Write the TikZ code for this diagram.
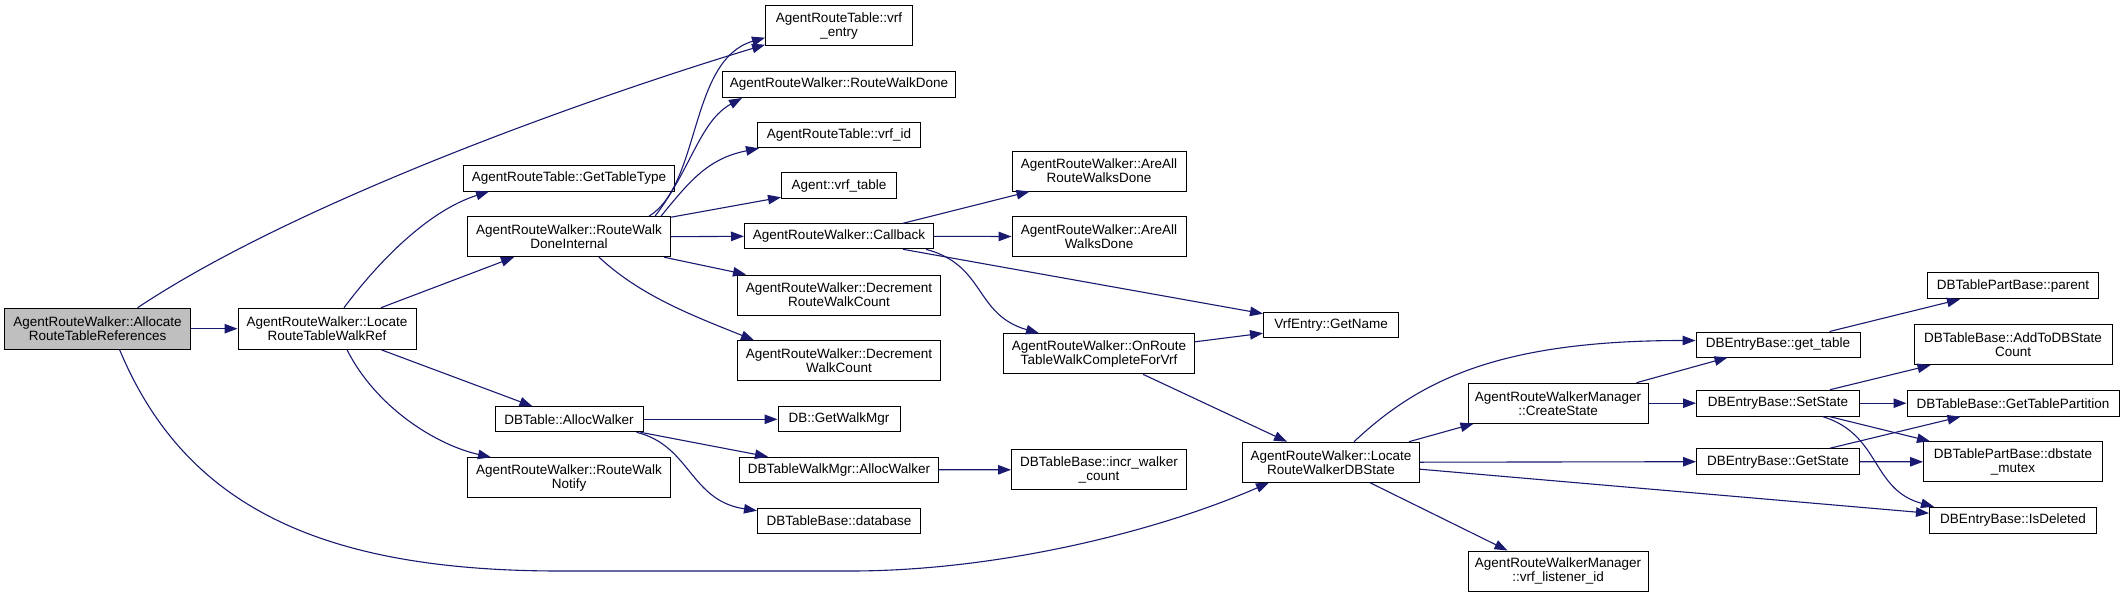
\documentclass[tikz,border=0pt]{standalone}
\usepackage{fontspec}
\setmainfont{Liberation Sans}
\usetikzlibrary{arrows.meta,calc}
\definecolor{edgeblue}{HTML}{191970}
\definecolor{rootgray}{HTML}{BFBFBF}
\tikzset{
  box/.style={draw=black, line width=1pt, fill=white, inner sep=0pt, align=center,
    font=\fontsize{13.5pt}{14pt}\selectfont},
  rootbox/.style={box, fill=rootgray},
  edge/.style={draw=edgeblue, line width=1.1pt, -{Triangle[length=13pt,width=9.5pt]}},
}
\begin{document}
\begin{tikzpicture}[x=1pt,y=-1pt]
\useasboundingbox (0,0) rectangle (2124,597);
% column 0/1
\node[rootbox, minimum width=186pt, minimum height=41pt] (alloc) at (97.6,328.7) {AgentRouteWalker::Allocate\\RouteTableReferences};
\node[box, minimum width=178pt, minimum height=41pt] (locref) at (327,328.7) {AgentRouteWalker::Locate\\RouteTableWalkRef};
% column 2
\node[box, minimum width=211pt, minimum height=26pt] (gtt) at (569,178) {AgentRouteTable::GetTableType};
\node[box, minimum width=203pt, minimum height=40pt] (rwdi) at (569,236.7) {AgentRouteWalker::RouteWalk\\DoneInternal};
\node[box, minimum width=148pt, minimum height=25pt] (dballoc) at (569,419.3) {DBTable::AllocWalker};
\node[box, minimum width=203pt, minimum height=40pt] (rwn) at (569,477.8) {AgentRouteWalker::RouteWalk\\Notify};
% column 3
\node[box, minimum width=147pt, minimum height=40pt] (vrfentry) at (839,25.7) {AgentRouteTable::vrf\\\_entry};
\node[box, minimum width=233pt, minimum height=26pt] (rwd) at (839,84.5) {AgentRouteWalker::RouteWalkDone};
\node[box, minimum width=163pt, minimum height=25pt] (vrfid) at (839,135.3) {AgentRouteTable::vrf\_id};
\node[box, minimum width=115pt, minimum height=26pt] (vrftable) at (839,185.8) {Agent::vrf\_table};
\node[box, minimum width=189pt, minimum height=25pt] (callback) at (839,236.3) {AgentRouteWalker::Callback};
\node[box, minimum width=203pt, minimum height=40pt] (drwc) at (839,295) {AgentRouteWalker::Decrement\\RouteWalkCount};
\node[box, minimum width=203pt, minimum height=40pt] (dwc) at (839,360.7) {AgentRouteWalker::Decrement\\WalkCount};
\node[box, minimum width=122pt, minimum height=25pt] (gwm) at (839,419.3) {DB::GetWalkMgr};
\node[box, minimum width=199pt, minimum height=25pt] (twm) at (839,469.7) {DBTableWalkMgr::AllocWalker};
\node[box, minimum width=163pt, minimum height=25pt] (database) at (839,520.7) {DBTableBase::database};
% column 4
\node[box, minimum width=174pt, minimum height=40pt] (aarwd) at (1099,171) {AgentRouteWalker::AreAll\\RouteWalksDone};
\node[box, minimum width=174pt, minimum height=40pt] (aawd) at (1099,236.5) {AgentRouteWalker::AreAll\\WalksDone};
\node[box, minimum width=191pt, minimum height=40pt] (onroute) at (1099,353.8) {AgentRouteWalker::OnRoute\\TableWalkCompleteForVrf};
\node[box, minimum width=175pt, minimum height=40pt] (incr) at (1099,469.8) {DBTableBase::incr\_walker\\\_count};
% column 5
\node[box, minimum width=135pt, minimum height=25pt] (getname) at (1331,324.7) {VrfEntry::GetName};
\node[box, minimum width=177pt, minimum height=40pt] (locdb) at (1331,462.2) {AgentRouteWalker::Locate\\RouteWalkerDBState};
% column 6
\node[box, minimum width=180pt, minimum height=40pt] (createstate) at (1558,403.2) {AgentRouteWalkerManager\\::CreateState};
\node[box, minimum width=180pt, minimum height=40pt] (vrflid) at (1558,571) {AgentRouteWalkerManager\\::vrf\_listener\_id};
% column 7
\node[box, minimum width=164pt, minimum height=25pt] (gettable) at (1778,344.5) {DBEntryBase::get\_table};
\node[box, minimum width=163pt, minimum height=26pt] (setstate) at (1778,403.2) {DBEntryBase::SetState};
\node[box, minimum width=163pt, minimum height=26pt] (getstate) at (1778,461.7) {DBEntryBase::GetState};
% column 8
\node[box, minimum width=171pt, minimum height=26pt] (parent) at (2013,285.8) {DBTablePartBase::parent};
\node[box, minimum width=198pt, minimum height=40pt] (addto) at (2013,344.7) {DBTableBase::AddToDBState\\Count};
\node[box, minimum width=212pt, minimum height=26pt] (gtp) at (2013,403.2) {DBTableBase::GetTablePartition};
\node[box, minimum width=179pt, minimum height=40pt] (mutex) at (2013,461.8) {DBTablePartBase::dbstate\\\_mutex};
\node[box, minimum width=167pt, minimum height=26pt] (isdeleted) at (2013,520.2) {DBEntryBase::IsDeleted};

% edges from alloc
\draw[edge] (alloc.east) -- (locref.west);
\draw[edge] ($(alloc.north)+(40,0)$) .. controls +(162,-108) and +(-166,50) .. ($(vrfentry.south west)+(0,-1.5)$);
\draw[edge] ($(alloc.south)+(22,0)$) .. controls +(65,156) and +(-240,0) .. (560,571) -- (850,571) .. controls +(150,0) and +(-110,48) .. ($(locdb.south west)+(27,0)$);
% edges from locref
\draw[edge] ($(locref.north)+(17,0)$) .. controls +(36,-48) and +(-60,19) .. ($(gtt.south west)+(26,0)$);
\draw[edge] ($(locref.north)+(54,0)$) -- ($(rwdi.south west)+(47,0)$);
\draw[edge] ($(locref.south)+(54,0)$) -- ($(dballoc.north west)+(38,0)$);
\draw[edge] ($(locref.south)+(20,0)$) .. controls +(28,56) and +(-57,-13) .. ($(rwn.north west)+(24,0)$);
% edges from rwdi
\draw[edge] ($(rwdi.north east)+(-22,0)$) .. controls +(52,-32) and +(-76,22) .. ($(vrfentry.west)+(0,12)$);
\draw[edge] ($(rwdi.north east)+(-16,0)$) .. controls +(36,-47) and +(-42,23) .. ($(rwd.south west)+(20,0)$);
\draw[edge] ($(rwdi.north east)+(-10,0)$) .. controls +(30,-37) and +(-50,10) .. ($(vrfid.south west)+(2,0)$);
\draw[edge] ($(rwdi.north east)+(0,1)$) -- ($(vrftable.south west)+(0,-2)$);
\draw[edge] (rwdi.east) -- (callback.west);
\draw[edge] ($(rwdi.south east)+(-7,0)$) -- ($(drwc.north west)+(9,0)$);
\draw[edge] ($(rwdi.south)+(30,0)$) .. controls +(41,38) and +(-65,-26) .. ($(dwc.north west)+(17,0)$);
% edges from callback
\draw[edge] ($(callback.north east)+(-31,0)$) -- ($(aarwd.south west)+(18,0)$);
\draw[edge] (callback.east) -- (aawd.west);
\draw[edge] ($(callback.south east)+(-31,0)$) -- ($(getname.west)+(0,-11)$);
\draw[edge] ($(callback.south east)+(-8,0)$) .. controls +(60,16) and +(-65,-19) .. ($(onroute.north west)+(36,0)$);
% edges from dballoc
\draw[edge] (dballoc.east) -- (gwm.west);
\draw[edge] ($(dballoc.south east)+(-3,0)$) -- ($(twm.north west)+(29,0)$);
\draw[edge] ($(dballoc.south east)+(-7,0)$) .. controls +(54,13) and +(-67,-10) .. ($(database.west)+(0,-10)$);
\draw[edge] (twm.east) -- (incr.west);
% edges from onroute
\draw[edge] ($(onroute.east)+(0,-12)$) -- ($(getname.west)+(0,8.5)$);
\draw[edge] ($(onroute.south)+(44,0)$) -- ($(locdb.north west)+(45,0)$);
% edges from locdb
\draw[edge] ($(locdb.north)+(23,0)$) .. controls +(66,-62) and +(-196,0) .. ($(gettable.west)+(0,-4)$);
\draw[edge] ($(locdb.north east)+(-11,0)$) -- ($(createstate.south west)+(6,0)$);
\draw[edge] (locdb.east) -- (getstate.west);
\draw[edge] ($(locdb.east)+(0,7)$) -- ($(isdeleted.west)+(0,-7)$);
\draw[edge] ($(locdb.south)+(39,0)$) -- ($(vrflid.north west)+(40,0)$);
% edges from createstate
\draw[edge] ($(createstate.north east)+(-12,0)$) -- ($(gettable.south west)+(32,0)$);
\draw[edge] (createstate.east) -- (setstate.west);
% edges from gettable, setstate, getstate
\draw[edge] ($(gettable.north east)+(-31,0)$) -- ($(parent.south west)+(33,0)$);
\draw[edge] ($(setstate.north east)+(-30,0)$) -- ($(addto.south west)+(17,0)$);
\draw[edge] (setstate.east) -- (gtp.west);
\draw[edge] ($(setstate.south east)+(-30,0)$) -- ($(mutex.north west)+(7,0)$);
\draw[edge] ($(setstate.south east)+(-37,0)$) .. controls +(58,18) and +(-63,-17) .. ($(isdeleted.north west)+(5,0)$);
\draw[edge] ($(getstate.north east)+(-30,0)$) -- ($(gtp.south west)+(54,0)$);
\draw[edge] (getstate.east) -- (mutex.west);
\end{tikzpicture}
\end{document}
